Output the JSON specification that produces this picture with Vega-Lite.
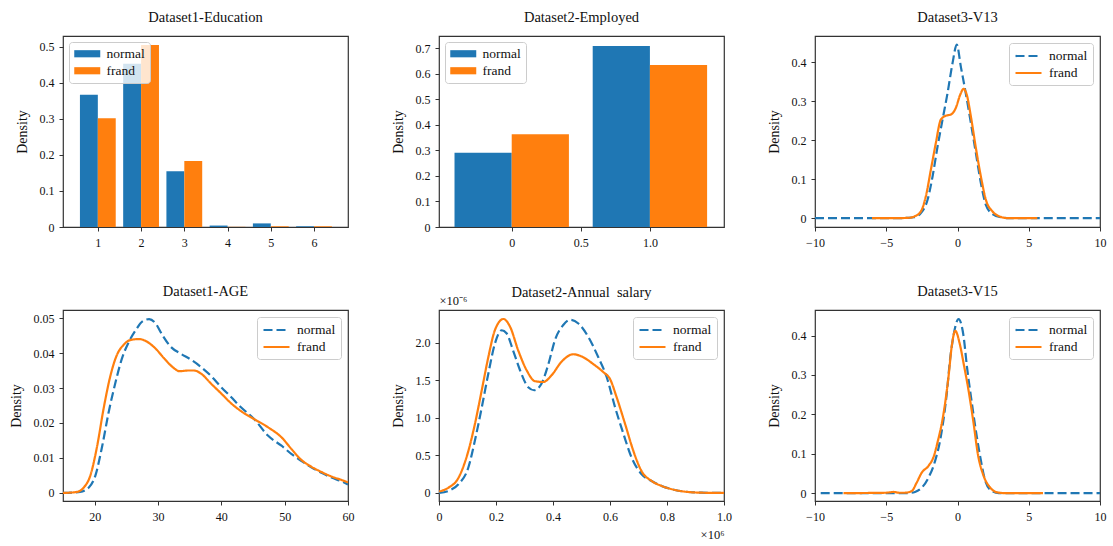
{
  "$schema": "https://vega.github.io/schema/vega-lite/v6.json",
  "padding": {"left": 8, "top": 8, "right": 5, "bottom": 5},
  "background": "white",
  "config": {
    "font": "Liberation Serif",
    "view": {"stroke": "#333333", "strokeWidth": 1.2},
    "axis": {"domain": false, "grid": false, "tickSize": 4, "tickColor": "#333333", "tickWidth": 1, "labelFont": "Liberation Serif", "labelFontSize": 12, "labelColor": "#111111", "titleFont": "Liberation Serif", "titleFontSize": 14, "titleFontWeight": "normal", "titleColor": "#111111", "titlePadding": 10, "labelOverlap": false},
    "axisX": {"labelPadding": 6, "labelAngle": 0, "labelFlush": false},
    "axisY": {"labelPadding": 5},
    "legend": {"labelFont": "Liberation Serif", "labelFontSize": 13.5, "labelColor": "#111111"},
    "style": {"guide-label": {"font": "Liberation Serif"}, "guide-title": {"font": "Liberation Serif"}},
    "title": {"font": "Liberation Serif", "fontSize": 14.5, "fontWeight": "normal", "color": "#111111", "frame": "group", "offset": 11},
    "line": {"strokeWidth": 2.2, "interpolate": "monotone"}
  },
  "datasets": {
    "edu": [
      {"group": "normal", "level": 1, "density": 0.367},
      {"group": "normal", "level": 2, "density": 0.453},
      {"group": "normal", "level": 3, "density": 0.155},
      {"group": "normal", "level": 4, "density": 0.004},
      {"group": "normal", "level": 5, "density": 0.010},
      {"group": "normal", "level": 6, "density": 0.002},
      {"group": "frand", "level": 1, "density": 0.302},
      {"group": "frand", "level": 2, "density": 0.505},
      {"group": "frand", "level": 3, "density": 0.183},
      {"group": "frand", "level": 4, "density": 0.0005},
      {"group": "frand", "level": 5, "density": 0.002},
      {"group": "frand", "level": 6, "density": 0.002}
    ],
    "emp": [
      {"group": "normal", "employed": 0, "density": 0.29},
      {"group": "normal", "employed": 1, "density": 0.708},
      {"group": "frand", "employed": 0, "density": 0.363},
      {"group": "frand", "employed": 1, "density": 0.634}
    ],
    "v13": [
      {"group": "normal", "x": -10, "y": 0}, {"group": "normal", "x": -6, "y": 0}, {"group": "normal", "x": -4, "y": 0},
      {"group": "normal", "x": -3.5, "y": 0.0005}, {"group": "normal", "x": -3.04, "y": 0.002}, {"group": "normal", "x": -2.57, "y": 0.013},
      {"group": "normal", "x": -2.1, "y": 0.047}, {"group": "normal", "x": -1.75, "y": 0.107}, {"group": "normal", "x": -1.4, "y": 0.184},
      {"group": "normal", "x": -1.05, "y": 0.253}, {"group": "normal", "x": -0.7, "y": 0.321}, {"group": "normal", "x": -0.35, "y": 0.398},
      {"group": "normal", "x": -0.05, "y": 0.446}, {"group": "normal", "x": 0.23, "y": 0.39}, {"group": "normal", "x": 0.58, "y": 0.321},
      {"group": "normal", "x": 0.94, "y": 0.244}, {"group": "normal", "x": 1.29, "y": 0.167}, {"group": "normal", "x": 1.64, "y": 0.09},
      {"group": "normal", "x": 1.99, "y": 0.034}, {"group": "normal", "x": 2.46, "y": 0.01}, {"group": "normal", "x": 3.04, "y": 0.002},
      {"group": "normal", "x": 3.6, "y": 0}, {"group": "normal", "x": 6, "y": 0}, {"group": "normal", "x": 10, "y": 0},
      {"group": "frand", "x": -6, "y": 0}, {"group": "frand", "x": -4, "y": 0}, {"group": "frand", "x": -3.3, "y": 0.001},
      {"group": "frand", "x": -3.04, "y": 0.004}, {"group": "frand", "x": -2.57, "y": 0.017}, {"group": "frand", "x": -2.22, "y": 0.056},
      {"group": "frand", "x": -1.87, "y": 0.124}, {"group": "frand", "x": -1.52, "y": 0.193}, {"group": "frand", "x": -1.17, "y": 0.253},
      {"group": "frand", "x": -0.82, "y": 0.263}, {"group": "frand", "x": -0.47, "y": 0.266}, {"group": "frand", "x": -0.12, "y": 0.283},
      {"group": "frand", "x": 0.19, "y": 0.317}, {"group": "frand", "x": 0.42, "y": 0.332}, {"group": "frand", "x": 0.65, "y": 0.317},
      {"group": "frand", "x": 0.94, "y": 0.261}, {"group": "frand", "x": 1.29, "y": 0.18}, {"group": "frand", "x": 1.64, "y": 0.107},
      {"group": "frand", "x": 1.99, "y": 0.047}, {"group": "frand", "x": 2.46, "y": 0.017}, {"group": "frand", "x": 3.04, "y": 0.003},
      {"group": "frand", "x": 3.5, "y": 0}, {"group": "frand", "x": 5.6, "y": 0}
    ],
    "age": [
      {"group": "normal", "x": 15, "y": 0}, {"group": "normal", "x": 17.7, "y": 0.0003}, {"group": "normal", "x": 19.05, "y": 0.0015},
      {"group": "normal", "x": 20.1, "y": 0.0049}, {"group": "normal", "x": 21.2, "y": 0.0135}, {"group": "normal", "x": 22.2, "y": 0.023},
      {"group": "normal", "x": 23.3, "y": 0.0317}, {"group": "normal", "x": 24.3, "y": 0.0384}, {"group": "normal", "x": 25.4, "y": 0.0432},
      {"group": "normal", "x": 26.5, "y": 0.0466}, {"group": "normal", "x": 27.5, "y": 0.049}, {"group": "normal", "x": 28.6, "y": 0.0497},
      {"group": "normal", "x": 29.6, "y": 0.0485}, {"group": "normal", "x": 30.7, "y": 0.0451}, {"group": "normal", "x": 32.0, "y": 0.0418},
      {"group": "normal", "x": 33.6, "y": 0.0398}, {"group": "normal", "x": 35.2, "y": 0.0381}, {"group": "normal", "x": 36.8, "y": 0.036},
      {"group": "normal", "x": 38.4, "y": 0.0334}, {"group": "normal", "x": 40.0, "y": 0.0302}, {"group": "normal", "x": 41.5, "y": 0.0275},
      {"group": "normal", "x": 43.1, "y": 0.0245}, {"group": "normal", "x": 45.2, "y": 0.0211}, {"group": "normal", "x": 47.35, "y": 0.0164},
      {"group": "normal", "x": 49.5, "y": 0.0135}, {"group": "normal", "x": 51.1, "y": 0.0111}, {"group": "normal", "x": 52.6, "y": 0.0092},
      {"group": "normal", "x": 54.2, "y": 0.0073}, {"group": "normal", "x": 55.8, "y": 0.0058}, {"group": "normal", "x": 57.4, "y": 0.0044},
      {"group": "normal", "x": 59.0, "y": 0.0033}, {"group": "normal", "x": 60, "y": 0.0024},
      {"group": "frand", "x": 15, "y": 0}, {"group": "frand", "x": 17.2, "y": 0.0003}, {"group": "frand", "x": 18.25, "y": 0.0015},
      {"group": "frand", "x": 19.3, "y": 0.0049}, {"group": "frand", "x": 20.4, "y": 0.0135}, {"group": "frand", "x": 21.4, "y": 0.024},
      {"group": "frand", "x": 22.5, "y": 0.0336}, {"group": "frand", "x": 23.5, "y": 0.0394}, {"group": "frand", "x": 24.6, "y": 0.0424},
      {"group": "frand", "x": 25.6, "y": 0.0437}, {"group": "frand", "x": 27.0, "y": 0.044}, {"group": "frand", "x": 28.3, "y": 0.0432},
      {"group": "frand", "x": 29.6, "y": 0.0413}, {"group": "frand", "x": 31.0, "y": 0.0384}, {"group": "frand", "x": 32.3, "y": 0.036},
      {"group": "frand", "x": 33.4, "y": 0.0348}, {"group": "frand", "x": 34.7, "y": 0.035}, {"group": "frand", "x": 35.7, "y": 0.035},
      {"group": "frand", "x": 36.8, "y": 0.0341}, {"group": "frand", "x": 38.4, "y": 0.0312}, {"group": "frand", "x": 40.0, "y": 0.0284},
      {"group": "frand", "x": 41.5, "y": 0.0257}, {"group": "frand", "x": 43.1, "y": 0.0234}, {"group": "frand", "x": 45.2, "y": 0.0211},
      {"group": "frand", "x": 47.35, "y": 0.0188}, {"group": "frand", "x": 49.5, "y": 0.0159}, {"group": "frand", "x": 51.1, "y": 0.0125},
      {"group": "frand", "x": 52.6, "y": 0.0095}, {"group": "frand", "x": 54.2, "y": 0.0075}, {"group": "frand", "x": 55.8, "y": 0.006},
      {"group": "frand", "x": 57.4, "y": 0.0047}, {"group": "frand", "x": 59.0, "y": 0.0037}, {"group": "frand", "x": 60, "y": 0.003}
    ],
    "salary": [
      {"group": "normal", "x": 0, "y": 0}, {"group": "normal", "x": 33000, "y": 2.7e-8}, {"group": "normal", "x": 68000, "y": 1.16e-7},
      {"group": "normal", "x": 103000, "y": 3.4e-7}, {"group": "normal", "x": 126000, "y": 7.0e-7}, {"group": "normal", "x": 150000, "y": 1.14e-6},
      {"group": "normal", "x": 173000, "y": 1.59e-6}, {"group": "normal", "x": 196000, "y": 1.99e-6}, {"group": "normal", "x": 220000, "y": 2.17e-6},
      {"group": "normal", "x": 237000, "y": 2.13e-6}, {"group": "normal", "x": 260000, "y": 1.9e-6}, {"group": "normal", "x": 284000, "y": 1.64e-6},
      {"group": "normal", "x": 313000, "y": 1.41e-6}, {"group": "normal", "x": 334000, "y": 1.37e-6}, {"group": "normal", "x": 360000, "y": 1.46e-6},
      {"group": "normal", "x": 384000, "y": 1.72e-6}, {"group": "normal", "x": 407000, "y": 2.04e-6}, {"group": "normal", "x": 436000, "y": 2.24e-6},
      {"group": "normal", "x": 460000, "y": 2.31e-6}, {"group": "normal", "x": 489000, "y": 2.26e-6}, {"group": "normal", "x": 524000, "y": 2.08e-6},
      {"group": "normal", "x": 559000, "y": 1.81e-6}, {"group": "normal", "x": 588000, "y": 1.55e-6}, {"group": "normal", "x": 618000, "y": 1.14e-6},
      {"group": "normal", "x": 647000, "y": 7.9e-7}, {"group": "normal", "x": 676000, "y": 4.7e-7}, {"group": "normal", "x": 711000, "y": 2.5e-7},
      {"group": "normal", "x": 746000, "y": 1.6e-7}, {"group": "normal", "x": 781000, "y": 9.4e-8}, {"group": "normal", "x": 828000, "y": 4.0e-8},
      {"group": "normal", "x": 875000, "y": 1.3e-8}, {"group": "normal", "x": 920000, "y": 4e-9}, {"group": "normal", "x": 1000000, "y": 0},
      {"group": "frand", "x": 0, "y": 2.0e-8}, {"group": "frand", "x": 33000, "y": 7.0e-8}, {"group": "frand", "x": 68000, "y": 2.0e-7},
      {"group": "frand", "x": 103000, "y": 5.6e-7}, {"group": "frand", "x": 126000, "y": 9.2e-7}, {"group": "frand", "x": 150000, "y": 1.37e-6},
      {"group": "frand", "x": 173000, "y": 1.81e-6}, {"group": "frand", "x": 196000, "y": 2.17e-6}, {"group": "frand", "x": 226000, "y": 2.32e-6},
      {"group": "frand", "x": 249000, "y": 2.22e-6}, {"group": "frand", "x": 278000, "y": 1.9e-6}, {"group": "frand", "x": 307000, "y": 1.64e-6},
      {"group": "frand", "x": 337000, "y": 1.49e-6}, {"group": "frand", "x": 366000, "y": 1.48e-6}, {"group": "frand", "x": 395000, "y": 1.57e-6},
      {"group": "frand", "x": 430000, "y": 1.75e-6}, {"group": "frand", "x": 471000, "y": 1.85e-6}, {"group": "frand", "x": 506000, "y": 1.81e-6},
      {"group": "frand", "x": 541000, "y": 1.72e-6}, {"group": "frand", "x": 577000, "y": 1.61e-6}, {"group": "frand", "x": 600000, "y": 1.52e-6},
      {"group": "frand", "x": 623000, "y": 1.28e-6}, {"group": "frand", "x": 653000, "y": 9.2e-7}, {"group": "frand", "x": 682000, "y": 5.6e-7},
      {"group": "frand", "x": 711000, "y": 2.9e-7}, {"group": "frand", "x": 746000, "y": 1.6e-7}, {"group": "frand", "x": 781000, "y": 9.4e-8},
      {"group": "frand", "x": 828000, "y": 4.0e-8}, {"group": "frand", "x": 875000, "y": 1.3e-8}, {"group": "frand", "x": 920000, "y": 4e-9},
      {"group": "frand", "x": 1000000, "y": 0}
    ],
    "v15": [
      {"group": "normal", "x": -9.6, "y": 0}, {"group": "normal", "x": -5, "y": 0}, {"group": "normal", "x": -3.5, "y": 0},
      {"group": "normal", "x": -2.98, "y": 0.003}, {"group": "normal", "x": -2.5, "y": 0.014}, {"group": "normal", "x": -2.04, "y": 0.039},
      {"group": "normal", "x": -1.57, "y": 0.082}, {"group": "normal", "x": -1.22, "y": 0.134}, {"group": "normal", "x": -0.99, "y": 0.185},
      {"group": "normal", "x": -0.75, "y": 0.254}, {"group": "normal", "x": -0.52, "y": 0.34}, {"group": "normal", "x": -0.28, "y": 0.4},
      {"group": "normal", "x": 0.07, "y": 0.442}, {"group": "normal", "x": 0.42, "y": 0.4}, {"group": "normal", "x": 0.66, "y": 0.322},
      {"group": "normal", "x": 1.01, "y": 0.228}, {"group": "normal", "x": 1.36, "y": 0.142}, {"group": "normal", "x": 1.6, "y": 0.091},
      {"group": "normal", "x": 1.95, "y": 0.031}, {"group": "normal", "x": 2.42, "y": 0.005}, {"group": "normal", "x": 2.9, "y": 0},
      {"group": "normal", "x": 6, "y": 0}, {"group": "normal", "x": 10, "y": 0},
      {"group": "frand", "x": -8, "y": 0}, {"group": "frand", "x": -5, "y": 0.001}, {"group": "frand", "x": -4.5, "y": 0.003},
      {"group": "frand", "x": -4.1, "y": 0.001}, {"group": "frand", "x": -3.7, "y": 0.001}, {"group": "frand", "x": -3.22, "y": 0.005},
      {"group": "frand", "x": -2.86, "y": 0.027}, {"group": "frand", "x": -2.51, "y": 0.052}, {"group": "frand", "x": -2.04, "y": 0.069},
      {"group": "frand", "x": -1.69, "y": 0.091}, {"group": "frand", "x": -1.34, "y": 0.138}, {"group": "frand", "x": -1.1, "y": 0.177},
      {"group": "frand", "x": -0.87, "y": 0.228}, {"group": "frand", "x": -0.63, "y": 0.296}, {"group": "frand", "x": -0.4, "y": 0.374},
      {"group": "frand", "x": -0.16, "y": 0.412}, {"group": "frand", "x": 0.19, "y": 0.374}, {"group": "frand", "x": 0.42, "y": 0.331},
      {"group": "frand", "x": 0.77, "y": 0.262}, {"group": "frand", "x": 1.13, "y": 0.177}, {"group": "frand", "x": 1.43, "y": 0.099},
      {"group": "frand", "x": 1.83, "y": 0.044}, {"group": "frand", "x": 2.3, "y": 0.014}, {"group": "frand", "x": 2.77, "y": 0.002},
      {"group": "frand", "x": 3.36, "y": 0}, {"group": "frand", "x": 6, "y": 0}
    ]
  },
  "columns": 3,
  "bounds": "flush",
  "spacing": {"row": 83, "column": 91},
  "concat": [
    {
      "title": "Dataset1-Education",
      "width": 285, "height": 191,
      "data": {"name": "edu"},
      "encoding": {
        "x": {"field": "level", "type": "quantitative", "scale": {"domain": [0.31, 6.67], "nice": false, "zero": false}, "axis": {"values": [1, 2, 3, 4, 5, 6], "format": "d", "title": null}},
        "y": {"field": "density", "type": "quantitative", "scale": {"domain": [0, 0.53], "nice": false}, "axis": {"values": [0, 0.1, 0.2, 0.3, 0.4, 0.5], "labelExpr": "datum.value == 0 ? '0' : format(datum.value, '.1f')", "title": "Density"}},
        "color": {"field": "group", "type": "nominal", "scale": {"domain": ["normal", "frand"], "range": ["#1f77b4", "#ff7f0e"]},
          "legend": {"title": null, "orient": "top-left", "offset": 6, "padding": 5, "strokeColor": "#cccccc", "fillColor": "rgba(255,255,255,0.8)", "cornerRadius": 3, "symbolType": "M-1,-0.55H3V0.55H-1Z", "symbolSize": 169, "symbolStrokeWidth": 0, "labelFontSize": 13.5, "labelFont": "Liberation Serif", "labelColor": "#111111", "labelOffset": 19, "rowPadding": 2,
            "encode": {"labels": {"update": {"font": {"value": "Liberation Serif"}}}}}}
      },
      "layer": [
        {"transform": [{"filter": "datum.group === 'normal'"}], "mark": {"type": "bar", "orient": "vertical", "width": 17.9, "xOffset": -8.95}},
        {"transform": [{"filter": "datum.group === 'frand'"}], "mark": {"type": "bar", "orient": "vertical", "width": 17.9, "xOffset": 8.95}}
      ]
    },
    {
      "title": "Dataset2-Employed",
      "width": 285, "height": 191,
      "data": {"name": "emp"},
      "encoding": {
        "x": {"field": "employed", "type": "quantitative", "scale": {"domain": [-0.49, 1.5], "nice": false, "zero": false}, "axis": {"values": [0, 0.5, 1], "labelExpr": "datum.value == 0 ? '0' : format(datum.value, '.1f')", "title": null}},
        "y": {"field": "density", "type": "quantitative", "scale": {"domain": [0, 0.747], "nice": false}, "axis": {"values": [0, 0.1, 0.2, 0.3, 0.4, 0.5, 0.6, 0.7], "labelExpr": "datum.value == 0 ? '0' : format(datum.value, '.1f')", "title": "Density"}},
        "color": {"field": "group", "type": "nominal", "scale": {"domain": ["normal", "frand"], "range": ["#1f77b4", "#ff7f0e"]},
          "legend": {"title": null, "orient": "top-left", "offset": 6, "padding": 5, "strokeColor": "#cccccc", "fillColor": "rgba(255,255,255,0.8)", "cornerRadius": 3, "symbolType": "M-1,-0.55H3V0.55H-1Z", "symbolSize": 169, "symbolStrokeWidth": 0, "labelFontSize": 13.5, "labelFont": "Liberation Serif", "labelColor": "#111111", "labelOffset": 19, "rowPadding": 2,
            "encode": {"labels": {"update": {"font": {"value": "Liberation Serif"}}}}}}
      },
      "layer": [
        {"transform": [{"filter": "datum.group === 'normal'"}], "mark": {"type": "bar", "orient": "vertical", "width": 57.2, "xOffset": -28.6}},
        {"transform": [{"filter": "datum.group === 'frand'"}], "mark": {"type": "bar", "orient": "vertical", "width": 57.2, "xOffset": 28.6}}
      ]
    },
    {
      "title": "Dataset3-V13",
      "width": 285, "height": 191,
      "data": {"name": "v13"},
      "encoding": {
        "x": {"field": "x", "type": "quantitative", "scale": {"domain": [-10, 10], "nice": false, "zero": false}, "axis": {"values": [-10, -5, 0, 5, 10], "title": null}},
        "y": {"field": "y", "type": "quantitative", "scale": {"domain": [-0.023, 0.468], "nice": false, "zero": false}, "axis": {"values": [0, 0.1, 0.2, 0.3, 0.4], "labelExpr": "datum.value == 0 ? '0' : format(datum.value, '.1f')", "title": "Density"}},
        "color": {"field": "group", "type": "nominal", "scale": {"domain": ["normal", "frand"], "range": ["#1f77b4", "#ff7f0e"]},
          "legend": {"title": null, "orient": "top-right", "offset": 7, "padding": 5, "strokeColor": "#cccccc", "fillColor": "rgba(255,255,255,0.8)", "cornerRadius": 3, "symbolType": "M-1,0H3", "symbolSize": 169, "symbolStrokeWidth": 2.2, "labelFontSize": 13.5, "labelFont": "Liberation Serif", "labelColor": "#111111", "labelOffset": 19, "rowPadding": 2,
            "encode": {"labels": {"update": {"font": {"value": "Liberation Serif"}}}}}},
        "strokeDash": {"field": "group", "type": "nominal", "scale": {"domain": ["normal", "frand"], "range": [[9, 4], [1, 0]]},
          "legend": {"title": null, "orient": "top-right", "offset": 7, "padding": 5, "strokeColor": "#cccccc", "fillColor": "rgba(255,255,255,0.8)", "cornerRadius": 3, "symbolType": "M-1,0H3", "symbolSize": 169, "symbolStrokeWidth": 2.2, "labelFontSize": 13.5, "labelFont": "Liberation Serif", "labelColor": "#111111", "labelOffset": 19, "rowPadding": 2,
            "encode": {"labels": {"update": {"font": {"value": "Liberation Serif"}}}}}}
      },
      "layer": [
        {"transform": [{"filter": "datum.group === 'normal'"}], "mark": {"type": "line", "clip": true}},
        {"transform": [{"filter": "datum.group === 'frand'"}], "mark": {"type": "line", "clip": true}}
      ]
    },
    {
      "title": "Dataset1-AGE",
      "width": 285, "height": 191,
      "data": {"name": "age"},
      "encoding": {
        "x": {"field": "x", "type": "quantitative", "scale": {"domain": [15, 60], "nice": false, "zero": false}, "axis": {"values": [20, 30, 40, 50, 60], "title": null}},
        "y": {"field": "y", "type": "quantitative", "scale": {"domain": [-0.0023, 0.0523], "nice": false, "zero": false}, "axis": {"values": [0, 0.01, 0.02, 0.03, 0.04, 0.05], "labelExpr": "datum.value == 0 ? '0' : format(datum.value, '.2f')", "title": "Density"}},
        "color": {"field": "group", "type": "nominal", "scale": {"domain": ["normal", "frand"], "range": ["#1f77b4", "#ff7f0e"]},
          "legend": {"title": null, "orient": "top-right", "offset": 7, "padding": 5, "strokeColor": "#cccccc", "fillColor": "rgba(255,255,255,0.8)", "cornerRadius": 3, "symbolType": "M-1,0H3", "symbolSize": 169, "symbolStrokeWidth": 2.2, "labelFontSize": 13.5, "labelFont": "Liberation Serif", "labelColor": "#111111", "labelOffset": 19, "rowPadding": 2,
            "encode": {"labels": {"update": {"font": {"value": "Liberation Serif"}}}}}},
        "strokeDash": {"field": "group", "type": "nominal", "scale": {"domain": ["normal", "frand"], "range": [[9, 4], [1, 0]]},
          "legend": {"title": null, "orient": "top-right", "offset": 7, "padding": 5, "strokeColor": "#cccccc", "fillColor": "rgba(255,255,255,0.8)", "cornerRadius": 3, "symbolType": "M-1,0H3", "symbolSize": 169, "symbolStrokeWidth": 2.2, "labelFontSize": 13.5, "labelFont": "Liberation Serif", "labelColor": "#111111", "labelOffset": 19, "rowPadding": 2,
            "encode": {"labels": {"update": {"font": {"value": "Liberation Serif"}}}}}}
      },
      "layer": [
        {"transform": [{"filter": "datum.group === 'normal'"}], "mark": {"type": "line", "clip": true}},
        {"transform": [{"filter": "datum.group === 'frand'"}], "mark": {"type": "line", "clip": true}}
      ]
    },
    {
      "title": {"text": "Dataset2-Annual\u00a0 salary", "offset": -6},
      "width": 285, "height": 191,
      "data": {"name": "salary"},
      "encoding": {
        "y": {"field": "y", "type": "quantitative", "scale": {"domain": [-1.07e-7, 2.44e-6], "nice": false, "zero": false}, "axis": {"values": [0, 5e-7, 1e-6, 1.5e-6, 2e-6], "labelExpr": "datum.value == 0 ? '0' : format(datum.value * 1e6, '.1f')", "title": "Density"}},
        "color": {"field": "group", "type": "nominal", "scale": {"domain": ["normal", "frand"], "range": ["#1f77b4", "#ff7f0e"]},
          "legend": {"title": null, "orient": "top-right", "offset": 7, "padding": 5, "strokeColor": "#cccccc", "fillColor": "rgba(255,255,255,0.8)", "cornerRadius": 3, "symbolType": "M-1,0H3", "symbolSize": 169, "symbolStrokeWidth": 2.2, "labelFontSize": 13.5, "labelFont": "Liberation Serif", "labelColor": "#111111", "labelOffset": 19, "rowPadding": 2,
            "encode": {"labels": {"update": {"font": {"value": "Liberation Serif"}}}}}},
        "strokeDash": {"field": "group", "type": "nominal", "scale": {"domain": ["normal", "frand"], "range": [[9, 4], [1, 0]]},
          "legend": {"title": null, "orient": "top-right", "offset": 7, "padding": 5, "strokeColor": "#cccccc", "fillColor": "rgba(255,255,255,0.8)", "cornerRadius": 3, "symbolType": "M-1,0H3", "symbolSize": 169, "symbolStrokeWidth": 2.2, "labelFontSize": 13.5, "labelFont": "Liberation Serif", "labelColor": "#111111", "labelOffset": 19, "rowPadding": 2,
            "encode": {"labels": {"update": {"font": {"value": "Liberation Serif"}}}}}}
      },
      "resolve": {"axis": {"x": "independent"}},
      "layer": [
        {"transform": [{"filter": "datum.group === 'normal'"}], "mark": {"type": "line", "clip": true},
          "encoding": {"x": {"field": "x", "type": "quantitative", "scale": {"domain": [0, 1000000], "nice": false, "zero": false}, "axis": {"orient": "bottom", "values": [0, 200000, 400000, 600000, 800000, 1000000], "labelExpr": "datum.value == 0 ? '0' : format(datum.value / 1e6, '.1f')", "title": "×10⁶", "titleFontSize": 12.5, "titleAnchor": "end", "titleAlign": "right", "titlePadding": 6}}}},
        {"transform": [{"filter": "datum.group === 'frand'"}], "mark": {"type": "line", "clip": true},
          "encoding": {"x": {"field": "x", "type": "quantitative", "scale": {"domain": [0, 1000000], "nice": false, "zero": false}, "axis": {"orient": "top", "labels": false, "ticks": false, "domain": false, "title": "×10⁻⁶", "titleFontSize": 12.5, "titleAnchor": "start", "titleAlign": "left", "titlePadding": 3}}}}
      ]
    },
    {
      "title": "Dataset3-V15",
      "width": 285, "height": 191,
      "data": {"name": "v15"},
      "encoding": {
        "x": {"field": "x", "type": "quantitative", "scale": {"domain": [-10, 10], "nice": false, "zero": false}, "axis": {"values": [-10, -5, 0, 5, 10], "title": null}},
        "y": {"field": "y", "type": "quantitative", "scale": {"domain": [-0.02, 0.465], "nice": false, "zero": false}, "axis": {"values": [0, 0.1, 0.2, 0.3, 0.4], "labelExpr": "datum.value == 0 ? '0' : format(datum.value, '.1f')", "title": "Density"}},
        "color": {"field": "group", "type": "nominal", "scale": {"domain": ["normal", "frand"], "range": ["#1f77b4", "#ff7f0e"]},
          "legend": {"title": null, "orient": "top-right", "offset": 7, "padding": 5, "strokeColor": "#cccccc", "fillColor": "rgba(255,255,255,0.8)", "cornerRadius": 3, "symbolType": "M-1,0H3", "symbolSize": 169, "symbolStrokeWidth": 2.2, "labelFontSize": 13.5, "labelFont": "Liberation Serif", "labelColor": "#111111", "labelOffset": 19, "rowPadding": 2,
            "encode": {"labels": {"update": {"font": {"value": "Liberation Serif"}}}}}},
        "strokeDash": {"field": "group", "type": "nominal", "scale": {"domain": ["normal", "frand"], "range": [[9, 4], [1, 0]]},
          "legend": {"title": null, "orient": "top-right", "offset": 7, "padding": 5, "strokeColor": "#cccccc", "fillColor": "rgba(255,255,255,0.8)", "cornerRadius": 3, "symbolType": "M-1,0H3", "symbolSize": 169, "symbolStrokeWidth": 2.2, "labelFontSize": 13.5, "labelFont": "Liberation Serif", "labelColor": "#111111", "labelOffset": 19, "rowPadding": 2,
            "encode": {"labels": {"update": {"font": {"value": "Liberation Serif"}}}}}}
      },
      "layer": [
        {"transform": [{"filter": "datum.group === 'normal'"}], "mark": {"type": "line", "clip": true}},
        {"transform": [{"filter": "datum.group === 'frand'"}], "mark": {"type": "line", "clip": true}}
      ]
    }
  ],
  "resolve": {"scale": {"color": "independent", "strokeDash": "independent"}, "legend": {"color": "independent", "strokeDash": "independent"}}
}
